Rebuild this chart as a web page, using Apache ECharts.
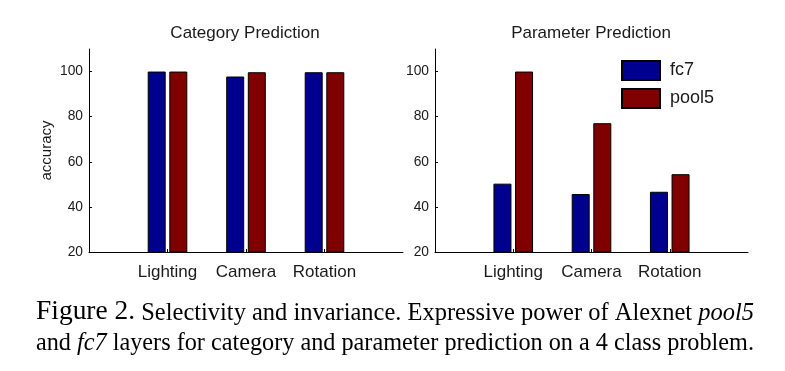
<!DOCTYPE html>
<html>
<head>
<meta charset="utf-8">
<script src="https://cdn.jsdelivr.net/npm/echarts@6/dist/echarts.min.js"></script>
<style>
html,body{margin:0;padding:0;background:#fff;}
#chart{width:785px;height:371px;}
</style>
</head>
<body>
<div id="chart"></div>
<script>
const categories = ['Lighting', 'Camera', 'Rotation'];
const catFc7 = [100, 97.8, 99.7];
const catPool5 = [100, 99.7, 99.7];
const parFc7 = [50.3, 45.7, 46.7];
const parPool5 = [100, 77.1, 54.5];
const yTicks = [20, 40, 60, 80, 100];
const titles = ['Category Prediction', 'Parameter Prediction'];
const yName = 'accuracy';
const seriesNames = ['fc7', 'pool5'];
const captionLine1 = [['big', 'Figure 2.'], ['n', ' Selectivity and invariance. Expressive power of Alexnet '], ['it', 'pool5']];
const captionLine2 = [['n', 'and '], ['it', 'fc7'], ['n', ' layers for category and parameter prediction on a 4 class problem.']];

const BLUE = '#00008f';
const RED = '#800000';
const SANS = '"Liberation Sans", Arial, sans-serif';
const SERIF = '"Liberation Serif", "Times New Roman", serif';
const TXT = '#1a1a1a';

const captionFonts = {
  big: { size: 27.5, style: 'normal' },
  n: { size: 24.5, style: 'normal' },
  it: { size: 24.5, style: 'italic' }
};

function measureLine(parts) {
  const c = document.createElement('canvas').getContext('2d');
  let w = 0;
  parts.forEach(p => {
    const f = captionFonts[p[0]];
    c.font = f.style + ' ' + f.size + 'px ' + SERIF;
    w += c.measureText(p[1]).width;
  });
  return w;
}
function richText(parts) {
  return parts.map(p => '{' + p[0] + '|' + p[1] + '}').join('');
}
const rich = {};
Object.keys(captionFonts).forEach(k => {
  rich[k] = {
    fontFamily: SERIF, fontSize: captionFonts[k].size, fontStyle: captionFonts[k].style,
    color: '#000', lineHeight: 30, verticalAlign: 'bottom'
  };
});
const capLeft = 36, capWidth = 718;

const cats = [''].concat(categories).concat(['']);
function pad(arr) { return [null].concat(arr).concat([null]); }

const grids = [
  { left: 89, right: 382, top: 49, bottom: 119 },
  { left: 435, right: 37, top: 49, bottom: 119 }
];

function xAxisFor(i) {
  return {
    type: 'category', gridIndex: i, data: cats, boundaryGap: false,
    axisLine: { lineStyle: { color: '#000', width: 1 } },
    axisTick: { inside: true, length: 3, interval: (idx) => idx >= 1 && idx <= 3, lineStyle: { color: '#000' } },
    axisLabel: { margin: 12, fontFamily: SANS, fontSize: 17, color: TXT, interval: 0 },
    splitLine: { show: false }
  };
}
function yAxisFor(i) {
  return {
    type: 'value', gridIndex: i, min: 20, max: 110, interval: 20,
    name: i === 0 ? yName : '', nameLocation: 'middle', nameGap: 35,
    nameTextStyle: { fontFamily: SANS, fontSize: 15, color: TXT },
    axisLine: { show: true, lineStyle: { color: '#000', width: 1 } },
    axisTick: { show: true, inside: true, length: 3, customValues: yTicks, lineStyle: { color: '#000' } },
    axisLabel: { margin: 6, fontFamily: SANS, fontSize: 13.8, color: TXT, customValues: yTicks },
    splitLine: { show: false }
  };
}
function barSeries(name, data, color, i) {
  return {
    type: 'bar', name: name, xAxisIndex: i, yAxisIndex: i,
    data: pad(data), barWidth: 18, barGap: '20%',
    itemStyle: { color: color, borderColor: '#000', borderWidth: 1 },
    silent: true, animation: false
  };
}

const chart = echarts.init(document.getElementById('chart'), null, { renderer: 'canvas' });
const scale1 = capWidth / measureLine(captionLine1);
const scale2 = capWidth / measureLine(captionLine2);

chart.setOption({
  animation: false,
  title: [
    { text: titles[0], left: 245, top: 25, textAlign: 'center', padding: 0,
      textStyle: { fontFamily: SANS, fontSize: 17, fontWeight: 'normal', color: TXT } },
    { text: titles[1], left: 591, top: 25, textAlign: 'center', padding: 0,
      textStyle: { fontFamily: SANS, fontSize: 17, fontWeight: 'normal', color: TXT } }
  ],
  legend: {
    data: seriesNames, orient: 'vertical', left: 621, top: 60, padding: 0,
    itemWidth: 38, itemHeight: 19, itemGap: 7, icon: 'rect',
    textStyle: { fontFamily: SANS, fontSize: 18, color: TXT, padding: [0, 0, 0, 5] },
    selectedMode: false
  },
  grid: grids,
  xAxis: [xAxisFor(0), xAxisFor(1)],
  yAxis: [yAxisFor(0), yAxisFor(1)],
  series: [
    barSeries(seriesNames[0], catFc7, BLUE, 0),
    barSeries(seriesNames[1], catPool5, RED, 0),
    barSeries(seriesNames[0], parFc7, BLUE, 1),
    barSeries(seriesNames[1], parPool5, RED, 1)
  ],
  graphic: [
    { type: 'text', x: capLeft, y: 296, scaleX: scale1, silent: true,
      style: { text: richText(captionLine1), rich: rich, verticalAlign: 'top', align: 'left' } },
    { type: 'text', x: capLeft, y: 326, scaleX: scale2, silent: true,
      style: { text: richText(captionLine2), rich: rich, verticalAlign: 'top', align: 'left' } }
  ]
});
</script>
</body>
</html>
